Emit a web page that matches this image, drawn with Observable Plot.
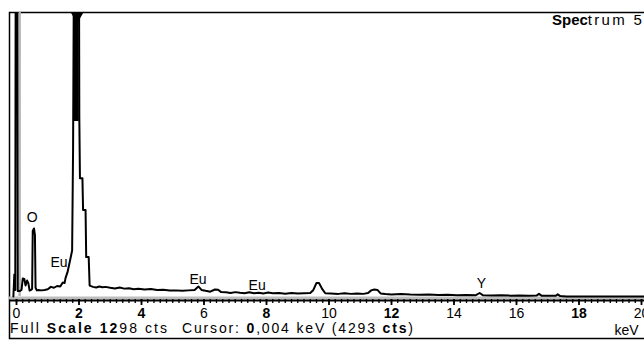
<!DOCTYPE html>
<html><head><meta charset="utf-8">
<script src="https://cdn.jsdelivr.net/npm/d3@7"></script>
<script src="https://cdn.jsdelivr.net/npm/@observablehq/plot@0.6"></script>
<style>
body{margin:0;background:#fff}
#chart{width:644px;height:341px;overflow:hidden}
svg text{white-space:pre}
</style>
</head><body><div id="chart"></div>
<script>
// Spectrum values (energy in keV, counts)
const energyKeV = [-0.10,-0.07,-0.04,0.00,0.04,0.10,0.16,0.20,0.25,0.29,0.34,0.38,0.42,0.47,0.50,0.52,0.56,0.59,0.61,0.65,
  0.70,0.80,0.90,1.00,1.10,1.20,1.30,1.40,1.48,1.54,1.57,1.63,1.70,1.78,1.81,1.85,1.90,1.95,1.99,2.00,2.01,2.03,2.11,2.13,2.21,2.23,2.31,2.34,
  2.45,2.55,2.65,2.75,2.85,3.00,3.15,3.30,3.45,3.60,3.75,3.90,4.10,4.30,4.50,4.70,4.90,5.10,5.30,5.50,5.70,5.82,5.92,
  6.05,6.20,6.35,6.45,6.55,6.70,6.85,7.00,7.15,7.30,7.45,7.60,7.75,7.90,8.05,8.20,8.40,8.60,8.80,9.00,9.20,9.40,9.50,9.60,9.68,9.78,9.88,
  10.05,10.30,10.50,10.70,10.90,11.10,11.25,11.35,11.45,11.55,11.65,11.80,12.00,12.30,12.60,12.90,13.20,13.50,13.80,14.10,14.40,14.70,14.82,14.92,
  15.20,15.50,15.80,16.10,16.40,16.65,16.72,16.80,17.00,17.25,17.32,17.40,17.60,18.50,20.10];
const counts = [0,100,30,4293,25,25,30,82,80,50,73,60,27,30,35,300,311,280,40,28,
  30,28,30,33,44,40,48,46,64,62,85,110,155,210,667,1900,3500,3700,2400,1500,820,540,540,395,395,180,180,50,
  44,41,46,42,44,40,37,41,36,38,33,35,32,34,30,31,27,28,26,28,30,46,30,
  26,22,32,31,20,19,16,20,17,15,19,15,17,14,18,15,16,13,16,14,15,16,30,62,62,35,15,
  14,12,15,12,14,12,16,28,32,30,14,11,9,11,9,8,9,7,8,6,7,6,16,6,
  5,6,4,5,4,5,12,4,3,3,10,2,0,0,0];

const tickValues = [0,2,4,6,8,10,12,14,16,18,20];
const tickLabels = ["0","2","4","6","8","10","12","14","16","18","20"];
const tickBold   = [false,true,true,false,true,false,true,false,false,true,false];
const minorTicks = d3.range(0, 101).map(i => i * 0.2);

const peakLabels   = ["O","Eu","Eu","Eu","Y"];
const peakLabelKeV = [0.50, 1.36, 5.81, 7.70, 14.88];
const peakLabelCts = [340, 134, 55, 32, 37];

const fullScale = 1298;
const cursorKeV = 0.004;
const cursorCts = 4293;
const offScalePeakKeV = [1.94];
const spectrumName = ["Spec", "trum 5"];
const unitLabel = "keV";

const spec = energyKeV.map((e, i) => ({keV: e, cts: counts[i]}));
const ticks = tickValues.map((v, i) => ({v, label: tickLabels[i], bold: tickBold[i]}));
const labels = peakLabels.map((t, i) => ({t, keV: peakLabelKeV[i], cts: peakLabelCts[i]}));
const yMin = -13.7;
const font = "Liberation Sans, Arial, Helvetica, sans-serif";

const plot = Plot.plot({
  width: 644, height: 341,
  marginLeft: 9, marginRight: 0, marginTop: 12, marginBottom: 42,
  x: {domain: [-0.224, 20.096], axis: null},
  y: {domain: [yMin, fullScale], axis: null},
  style: {fontFamily: font, fontSize: "14px", color: "black", background: "white"},
  marks: [
    Plot.frame({stroke: "black", strokeWidth: 1.5, insetBottom: -39, insetRight: -5}),
    Plot.ruleY([0], {stroke: "#bdbdbd", strokeWidth: 3, dy: 1.5}),
    Plot.ruleY([yMin], {stroke: "black", strokeWidth: 2, dy: 1}),
    Plot.ruleX([cursorKeV], {y1: 0, y2: fullScale, stroke: "#b5b5b5", strokeWidth: 2.5, dx: 3}),
    Plot.areaY(spec.filter(d => d.keV > 1 && d.cts >= 800), {x: "keV", y1: 800, y2: "cts", fill: "black", clip: "frame"}),
    Plot.lineY(spec, {x: "keV", y: "cts", stroke: "black", strokeWidth: 2, clip: "frame"}),
    Plot.dot(offScalePeakKeV, {x: d => d, y: fullScale, symbol: "triangle", rotate: 180, r: 3.5, fill: "black", stroke: "black", dy: 4}),
    Plot.axisX(minorTicks, {tickSize: 4, tickFormat: () => "", label: null, stroke: "black", strokeWidth: 1.3}),
    Plot.axisX(tickValues, {tickSize: 6, tickFormat: () => "", label: null, stroke: "black", strokeWidth: 1.8}),
    Plot.text(ticks.filter(d => d.bold), {x: "v", text: "label", frameAnchor: "bottom", lineAnchor: "bottom", dy: 18.5, fontWeight: "bold", fontSize: 14, fill: "black"}),
    Plot.text(ticks.filter(d => !d.bold), {x: "v", text: "label", frameAnchor: "bottom", lineAnchor: "bottom", dy: 18.5, fontSize: 14, fill: "black"}),
    Plot.text([unitLabel], {text: d => d, frameAnchor: "bottom-right", textAnchor: "start", lineAnchor: "bottom", dx: -30, dy: 35, fontSize: 14, fill: "black"}),
    Plot.text(labels, {x: "keV", y: "cts", text: "t", lineAnchor: "bottom", fontSize: 14, fill: "black"})
  ]
});

const svg = d3.select(plot);
// drop the empty tick-label texts of the tick-only axes
svg.selectAll("text").filter(function() { return this.textContent === ""; }).remove();

function rich(x, y, size, parts, len) {
  const t = svg.append("text").attr("x", x).attr("y", y).attr("text-anchor", "start")
    .attr("font-size", size).attr("font-family", font).attr("fill", "black");
  if (len) t.attr("textLength", len).attr("lengthAdjust", "spacing");
  parts.forEach(([s, b, sp]) => {
    const ts = t.append("tspan").attr("font-weight", b ? "bold" : "normal").text(s);
    if (sp) ts.attr("letter-spacing", sp);
  });
}
const fs = String(fullScale);
rich(10, 333, 14, [["Full ", false], ["Scale", true], [" ", false], [fs.slice(0, 2), true], [fs.slice(2) + " cts", false]], 157);
const ck = cursorKeV.toFixed(3).replace(".", ",");
rich(182, 333, 14, [["Cursor: ", false], [ck.slice(0, 1), true], [ck.slice(1) + " keV (" + cursorCts + " ", false], ["cts", true], [")", false]], 231);
rich(552, 25, 15, [[spectrumName[0], true], [spectrumName[1], false, 2.3]]);

document.getElementById("chart").appendChild(plot);
</script>
</body></html>
